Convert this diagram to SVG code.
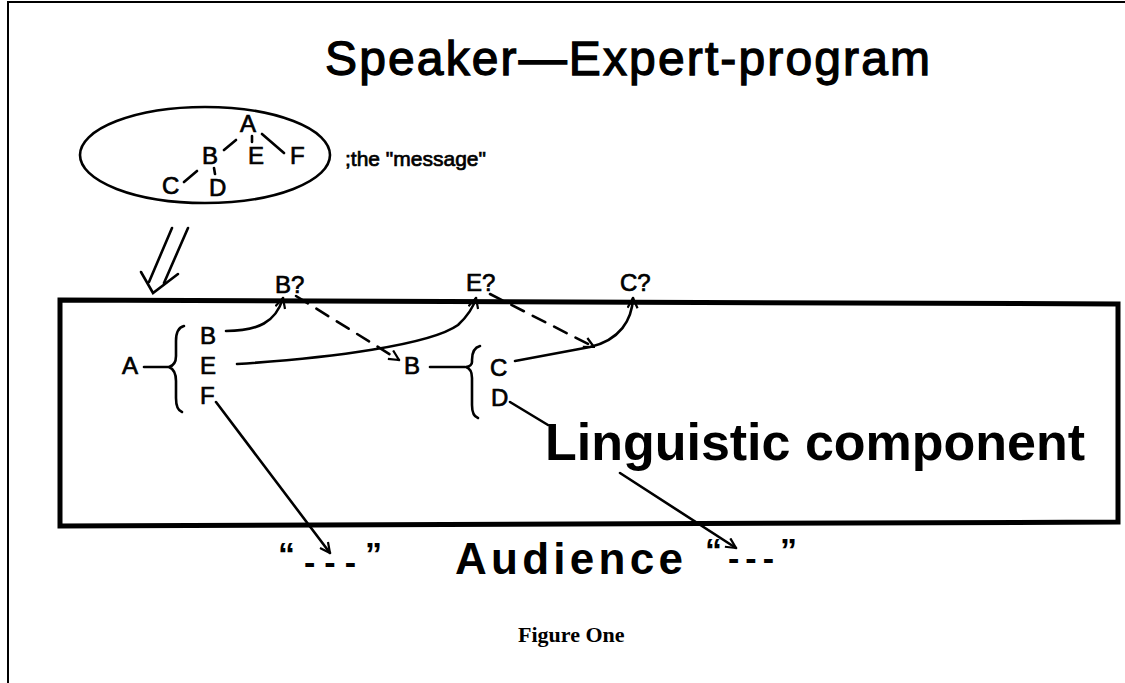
<svg xmlns="http://www.w3.org/2000/svg" width="1125" height="683" viewBox="0 0 1125 683">
<style>
.t{font-family:"Liberation Sans",Arial,sans-serif;fill:#000}
.m{stroke:#000;stroke-width:0.7}
.s{font-family:"Liberation Serif","Times New Roman",serif;fill:#000;font-weight:bold}
.ln{fill:none;stroke:#000;stroke-width:2.6;stroke-linecap:round}
.dash{stroke-dasharray:14 10}
</style>
<defs>
<marker id="ah" viewBox="0 0 12 12" refX="11" refY="6" markerWidth="12" markerHeight="12" markerUnits="userSpaceOnUse" orient="auto">
<path d="M1,1 L11,6 L1,11" fill="none" stroke="#000" stroke-width="2.2"/>
</marker>
</defs>
<rect width="1125" height="683" fill="#fff"/>
<g id="frame">
<path d="M8,683 L8,2 L1125,2" fill="none" stroke="#000" stroke-width="2"/>
</g>
<g id="title"><text class="t" x="325" y="75" font-size="48" stroke="#000" stroke-width="1.3" textLength="605">Speaker—Expert-program</text></g>
<g id="message">
<ellipse cx="205" cy="155" rx="125" ry="48" fill="none" stroke="#000" stroke-width="2.6"/>
<text class="t m" x="240" y="132" font-size="24">A</text>
<text class="t m" x="202" y="164" font-size="24">B</text>
<text class="t m" x="248" y="164" font-size="24">E</text>
<text class="t m" x="290" y="164" font-size="24">F</text>
<text class="t m" x="162" y="194" font-size="24">C</text>
<text class="t m" x="209" y="196" font-size="24">D</text>
<path class="ln" d="M224,150 L236,140 M252,136 L252,142 M262,134 L284,153 M184,182 L197,171 M214,168 L215,174"/>
</g>
<g id="message-label"><text class="t m" x="345" y="166" font-size="21">;the "message"</text></g>
<g id="box">
<path d="M60,300 L1118,304 L1118,522 L60,526 Z" fill="none" stroke="#000" stroke-width="5"/>
</g>
<g id="qB"><text class="t m" x="275" y="293" font-size="24">B?</text></g>
<g id="qE"><text class="t m" x="466" y="291" font-size="24">E?</text></g>
<g id="qC"><text class="t m" x="620" y="291" font-size="24">C?</text></g>
<g id="nodeA">
<text class="t m" x="122" y="374" font-size="24">A</text>
<path class="ln" d="M144,367 L168,367"/>
<path class="ln" d="M184,326 Q176,328 176,341 L176,356 Q176,365 169,367 Q176,370 176,381 L176,398 Q176,410 182,412"/>
</g>
<g id="colA">
<text class="t m" x="200" y="344" font-size="24">B</text>
<text class="t m" x="200" y="374" font-size="24">E</text>
<text class="t m" x="200" y="404" font-size="24">F</text>
</g>
<g id="nodeB">
<text class="t m" x="404" y="374" font-size="24">B</text>
<path class="ln" d="M430,367 L465,367"/>
<path class="ln" d="M480,346 Q472,348 472,360 L472,362 Q472,366 466,367 Q472,369 472,378 L472,405 Q472,416 478,418"/>
</g>
<g id="colB">
<text class="t m" x="490" y="376" font-size="24">C</text>
<text class="t m" x="491" y="406" font-size="24">D</text>
</g>
<g id="linguistic"><text class="t" x="545" y="460" font-size="52" font-weight="bold" textLength="540">Linguistic component</text></g>
<g id="audience"><text class="t" x="455" y="574" font-size="44" font-weight="bold" textLength="228">Audience</text></g>
<g id="out1"><text class="t" x="278" y="566" font-size="34" font-weight="bold" letter-spacing="9">“<tspan dy="8">---</tspan><tspan dy="-8">”</tspan></text></g>
<g id="out2"><text class="t" x="705" y="562" font-size="34" font-weight="bold" letter-spacing="6">“<tspan dy="8">---</tspan><tspan dy="-8">”</tspan></text></g>
<g id="caption"><text class="s" x="518" y="642" font-size="22">Figure One</text></g>
<g id="connectors">
<path class="ln" d="M172,228 L149,282 M188,228 L164,283"/>
<path class="ln" d="M141,272 L153,293 L178,274"/>
<path class="ln" d="M226,331 C258,331 276,322 283,298" marker-end="url(#ah)"/>
<path class="ln" d="M237,364 C330,358 430,345 458,325 Q472,312 476,298" marker-end="url(#ah)"/>
<path class="ln dash" d="M296,296 L399,360" marker-end="url(#ah)"/>
<path class="ln dash" d="M490,294 L594,347" marker-end="url(#ah)"/>
<path class="ln" d="M515,361 L590,347 C620,340 632,320 633,298" marker-end="url(#ah)"/>
<path class="ln" d="M216,402 L330,553" marker-end="url(#ah)"/>
<path class="ln" d="M510,402 L548,425"/>
<path class="ln" d="M620,473 L736,548" marker-end="url(#ah)"/>
</g>
</svg>
